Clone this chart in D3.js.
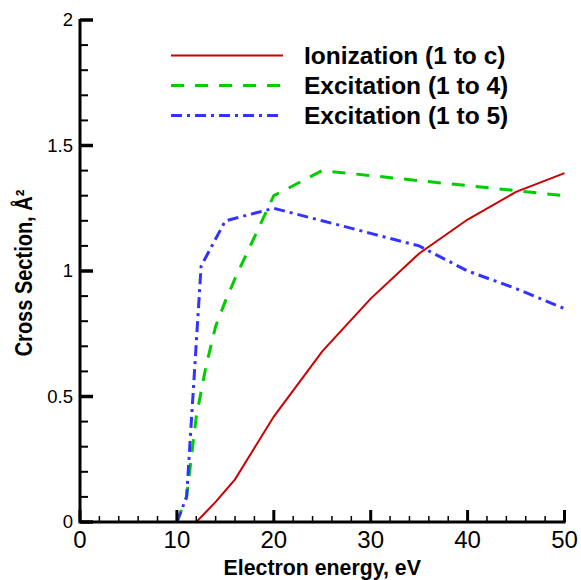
<!DOCTYPE html>
<html>
<head>
<meta charset="utf-8">
<script src="https://cdn.jsdelivr.net/npm/d3@7"></script>
<style>
  body { margin: 0; background: #fff; }
  svg { font-family: "Liberation Sans", Arial, sans-serif; }
  .legend text { font-weight: bold; font-size: 24.5px; }
  .label { font-weight: bold; }
</style>
</head>
<body>
<svg width="581" height="580"></svg>
<script>
// energies (eV) and cross sections (A^2)
const ionE = [8, 10, 12, 14, 16, 20, 25, 30, 35, 40, 45, 50];
const ionS = [0, 0, 0, 0.08, 0.17, 0.42, 0.68, 0.89, 1.07, 1.205, 1.315, 1.39];

const exc4E = [10, 11, 12, 13, 14, 15, 16, 20, 25, 50];
const exc4S = [0, 0.1, 0.42, 0.62, 0.78, 0.88, 0.97, 1.3, 1.4, 1.3];

const exc5E = [10, 11, 12.5, 15, 20, 25, 30, 35, 40, 45, 50];
const exc5S = [0, 0.1, 1.02, 1.2, 1.25, 1.2, 1.15, 1.1, 1.0, 0.93, 0.85];

const seriesNames = ['Ionization (1 to c)', 'Excitation (1 to 4)', 'Excitation (1 to 5)'];
const xTicks = [0, 10, 20, 30, 40, 50];
const yTicks = [0, 0.5, 1, 1.5, 2];
const xMinor = d3.range(0, 51, 2);
const yMinor = d3.range(0, 21).map(d => d / 10);

const series = [
  { name: seriesNames[0], e: ionE, s: ionS, color: '#cc0000', width: 2, dash: null },
  { name: seriesNames[1], e: exc4E, s: exc4S, color: '#00cc00', width: 3, dash: '13,11' },
  { name: seriesNames[2], e: exc5E, s: exc5S, color: '#3333ff', width: 3, dash: '11,5,3,5' }
];

const svg = d3.select('svg');
const plotLeft = 80, plotRight = 564.5, plotTop = 20, plotBottom = 522;

const x = d3.scaleLinear().domain([0, 50]).range([plotLeft, plotRight]);
const y = d3.scaleLinear().domain([0, 2]).range([plotBottom, plotTop]);

// data lines
const line = d3.line().x(d => x(d[0])).y(d => y(d[1]));
series.forEach(sr => {
  svg.append('path')
    .datum(sr.e.map((e, i) => [e, sr.s[i]]))
    .attr('d', line)
    .attr('fill', 'none')
    .attr('stroke', sr.color)
    .attr('stroke-width', sr.width)
    .attr('stroke-dasharray', sr.dash);
});

// ticks, pointing inward
const ticks = svg.append('g');
ticks.selectAll('.xminor').data(xMinor).join('path')
  .attr('class', 'xminor')
  .attr('d', d => `M${x(d)},${plotBottom}V${plotBottom - 6}`)
  .attr('stroke', '#000')
  .attr('stroke-width', 1.5);
ticks.selectAll('.yminor').data(yMinor).join('path')
  .attr('class', 'yminor')
  .attr('d', d => `M${plotLeft},${y(d)}H${plotLeft + 8}`)
  .attr('stroke', '#000')
  .attr('stroke-width', 2);
ticks.selectAll('.xmajor').data(xTicks).join('path')
  .attr('class', 'xmajor')
  .attr('d', d => `M${x(d)},${plotBottom}V${plotBottom - 12}`)
  .attr('stroke', '#000')
  .attr('stroke-width', 3);
ticks.selectAll('.ymajor').data(yTicks).join('path')
  .attr('class', 'ymajor')
  .attr('d', d => `M${plotLeft},${y(d)}H${plotLeft + 13}`)
  .attr('stroke', '#000')
  .attr('stroke-width', 3.5);

// axis lines
svg.append('path')
  .attr('d', `M${plotLeft},${plotTop - 1}V${plotBottom}H${plotRight + 1}`)
  .attr('fill', 'none')
  .attr('stroke', '#000').attr('stroke-width', 3);

// tick labels
svg.append('g').selectAll('text').data(xTicks).join('text')
  .attr('x', d => x(d))
  .attr('y', plotBottom + 26)
  .attr('text-anchor', 'middle')
  .attr('font-size', 24)
  .text(d => d);

svg.append('g').selectAll('text').data(yTicks).join('text')
  .attr('x', plotLeft - 7)
  .attr('y', d => y(d))
  .attr('dy', '0.35em')
  .attr('text-anchor', 'end')
  .attr('font-size', 18.5)
  .text(d => d);

// axis titles
svg.append('text')
  .attr('class', 'label')
  .attr('font-size', 21.3)
  .attr('x', (plotLeft + plotRight) / 2)
  .attr('y', 575)
  .attr('text-anchor', 'middle')
  .text('Electron energy, eV');

svg.append('text')
  .attr('class', 'label')
  .attr('font-size', 20)
  .attr('transform', `translate(32, 273) rotate(-90) scale(1, 1.15)`)
  .attr('text-anchor', 'middle')
  .text('Cross Section, Å²');

// legend
const legend = svg.append('g').attr('class', 'legend');
series.forEach((sr, i) => {
  const ly = 55.5 + i * 30;
  legend.append('line')
    .attr('x1', 171).attr('x2', 283)
    .attr('y1', ly).attr('y2', ly)
    .attr('stroke', sr.color)
    .attr('stroke-width', sr.width)
    .attr('stroke-dasharray', sr.dash);
  legend.append('text')
    .attr('x', 304)
    .attr('y', ly + 8.5)
    .text(sr.name);
});
</script>
</body>
</html>
